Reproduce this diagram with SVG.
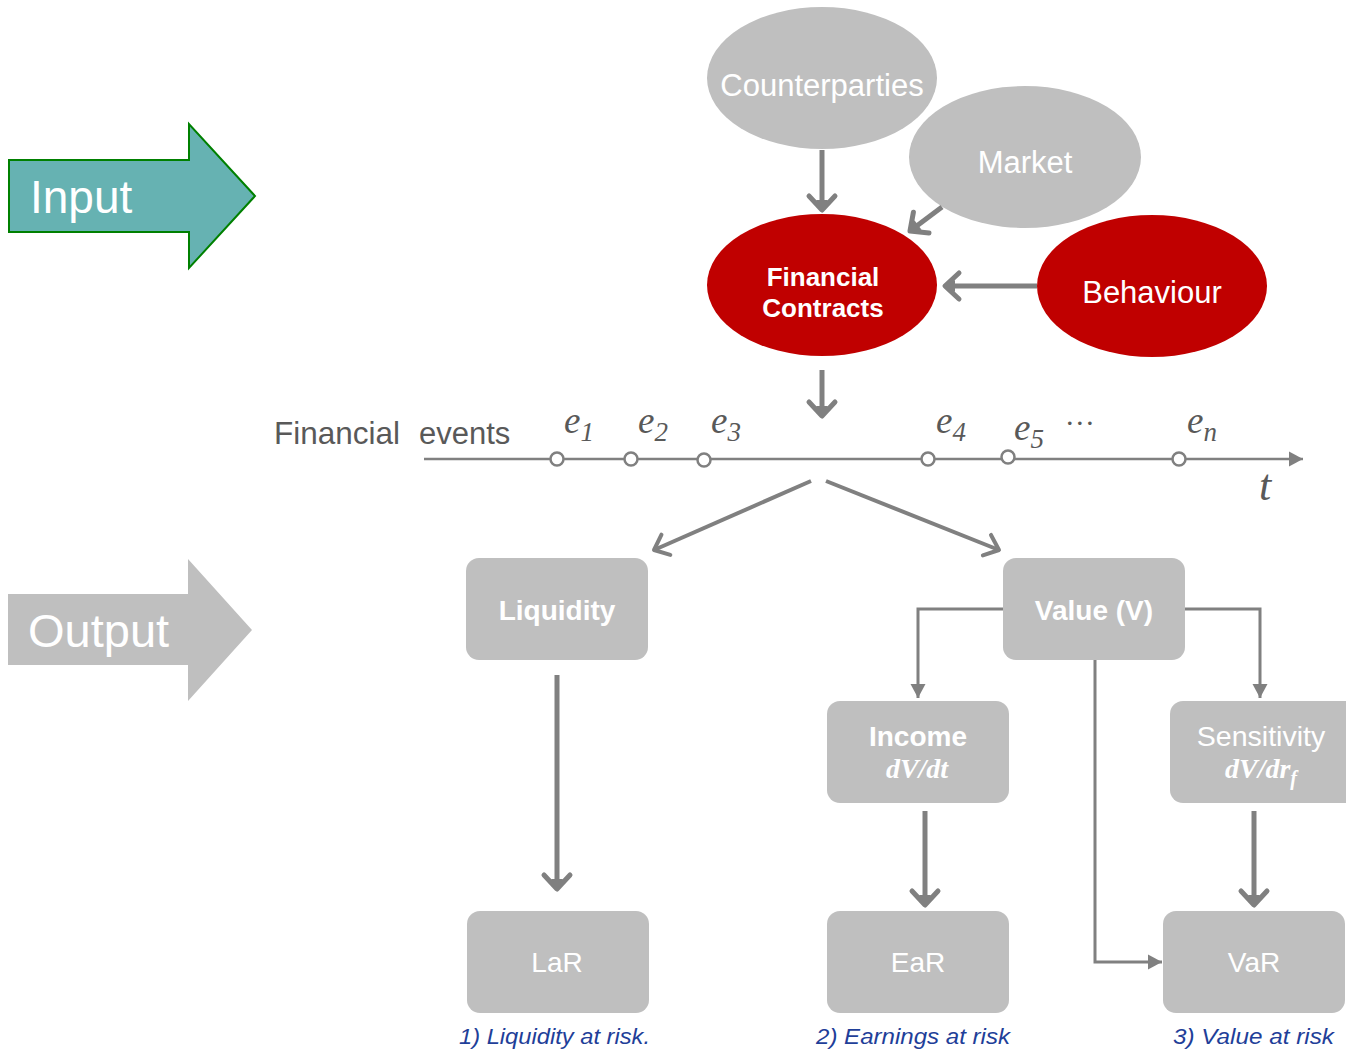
<svg xmlns="http://www.w3.org/2000/svg" width="1346" height="1052" viewBox="0 0 1346 1052">
  <style>
    .ell-grey { fill: #bfbfbf; }
    .ell-red { fill: #c00000; }
    .box { fill: #bfbfbf; }
    .lbl { font-family: "Liberation Sans", Arial, sans-serif; fill: #ffffff; text-anchor: middle; }
    .bold { font-weight: bold; }
    .math { font-family: "Liberation Serif", "Times New Roman", serif; font-style: italic; fill: #595959; }
    .mathw { font-family: "Liberation Serif", "Times New Roman", serif; font-style: italic; font-weight: bold; fill: #ffffff; text-anchor: middle; }
    .cap { font-family: "Liberation Sans", Arial, sans-serif; font-style: italic; fill: #1f3f99; font-size: 22px; }
    .thick { fill: none; stroke: #808080; stroke-width: 5; }
    .mid { fill: none; stroke: #808080; stroke-width: 4; }
    .thin { fill: none; stroke: #808080; stroke-width: 3; }
    .evt { fill: #ffffff; stroke: #808080; stroke-width: 2.5; }
  </style>
  <defs>
    <!-- open chevron head with a solid tip -->
    <marker id="chev" markerUnits="userSpaceOnUse" viewBox="-22 -18 26 36" markerWidth="26" markerHeight="36" refX="0" refY="0" orient="auto" overflow="visible">
      <path d="M-14,-13 L0,0 L-14,13" fill="none" stroke="#808080" stroke-width="5" stroke-linecap="round" stroke-linejoin="round"/>
      <path d="M1,0 L-10,-6 L-10,6 Z" fill="#808080"/>
    </marker>
    <marker id="chev-s" markerUnits="userSpaceOnUse" viewBox="-22 -18 26 36" markerWidth="26" markerHeight="36" refX="0" refY="0" orient="auto" overflow="visible">
      <path d="M-13,-11 L0,0 L-13,11" fill="none" stroke="#808080" stroke-width="4" stroke-linecap="round" stroke-linejoin="round"/>
    </marker>
    <marker id="tri" markerUnits="userSpaceOnUse" viewBox="-15 -8 16 16" markerWidth="16" markerHeight="16" refX="0" refY="0" orient="auto" overflow="visible">
      <path d="M0,0 L-14,-7.5 L-14,7.5 Z" fill="#808080"/>
    </marker>
  </defs>

  <!-- side arrows -->
  <g id="input-arrow">
    <polygon points="9,160 189,160 189,124 255,196 189,268 189,232 9,232" fill="#66b2b2" stroke="#008000" stroke-width="2"/>
    <text x="30" y="213" font-family="Liberation Sans, Arial, sans-serif" font-size="46" fill="#ffffff">Input</text>
  </g>
  <g id="output-arrow">
    <polygon points="8,594 188,594 188,559 252,630 188,701 188,665 8,665" fill="#bfbfbf"/>
    <text x="28" y="647" font-family="Liberation Sans, Arial, sans-serif" font-size="47" fill="#ffffff">Output</text>
  </g>

  <!-- input nodes -->
  <g id="counterparties">
    <ellipse class="ell-grey" cx="822" cy="78" rx="115" ry="71"/>
    <text class="lbl" x="822" y="96" font-size="31">Counterparties</text>
  </g>
  <g id="market">
    <ellipse class="ell-grey" cx="1025" cy="157" rx="116" ry="71"/>
    <text class="lbl" x="1025" y="173" font-size="31">Market</text>
  </g>
  <g id="financial-contracts">
    <ellipse class="ell-red" cx="822" cy="285" rx="115" ry="71"/>
    <text class="lbl bold" x="823" y="286" font-size="26">Financial</text>
    <text class="lbl bold" x="823" y="317" font-size="26">Contracts</text>
  </g>
  <g id="behaviour">
    <ellipse class="ell-red" cx="1152" cy="286" rx="115" ry="71"/>
    <text class="lbl" x="1152" y="303" font-size="31">Behaviour</text>
  </g>

  <!-- timeline of financial events -->
  <g id="timeline">
    <text x="274" y="444" font-family="Liberation Sans, Arial, sans-serif" font-size="31.5" fill="#595959">Financial</text>
    <text x="419" y="444" font-family="Liberation Sans, Arial, sans-serif" font-size="31" fill="#595959">events</text>
    <line x1="424" y1="459" x2="1303" y2="459" stroke="#808080" stroke-width="2.5" marker-end="url(#tri)"/>
    <circle class="evt" cx="557" cy="459" r="6.5"/>
    <circle class="evt" cx="631" cy="459" r="6.5"/>
    <circle class="evt" cx="704" cy="460" r="6.5"/>
    <circle class="evt" cx="928" cy="459" r="6.5"/>
    <circle class="evt" cx="1008" cy="457" r="6.5"/>
    <circle class="evt" cx="1179" cy="459" r="6.5"/>
    <text class="math" x="564" y="433" font-size="37">e<tspan font-size="27" dy="8">1</tspan></text>
    <text class="math" x="638" y="433" font-size="37">e<tspan font-size="27" dy="8">2</tspan></text>
    <text class="math" x="711" y="433" font-size="37">e<tspan font-size="27" dy="8">3</tspan></text>
    <text class="math" x="936" y="433" font-size="37">e<tspan font-size="27" dy="8">4</tspan></text>
    <text class="math" x="1014" y="440" font-size="37">e<tspan font-size="27" dy="8">5</tspan></text>
    <text class="math" x="1067" y="425" font-size="30" font-style="normal">…</text>
    <text class="math" x="1187" y="433" font-size="37">e<tspan font-size="27" dy="8">n</tspan></text>
    <text class="math" x="1259" y="500" font-size="44">t</text>
  </g>

  <!-- output nodes -->
  <g id="liquidity">
    <rect class="box" x="466" y="558" width="182" height="102" rx="13"/>
    <text class="lbl bold" x="557" y="620" font-size="28">Liquidity</text>
  </g>
  <g id="value">
    <rect class="box" x="1003" y="558" width="182" height="102" rx="13"/>
    <text class="lbl bold" x="1094" y="620" font-size="28">Value (V)</text>
  </g>
  <g id="income">
    <rect class="box" x="827" y="701" width="182" height="102" rx="13"/>
    <text class="lbl bold" x="918" y="746" font-size="28">Income</text>
    <text class="mathw" x="917" y="778" font-size="28">dV/dt</text>
  </g>
  <g id="sensitivity">
    <rect class="box" x="1170" y="701" width="190" height="102" rx="13"/>
    <text class="lbl" x="1261" y="746" font-size="28.5">Sensitivity</text>
    <text class="mathw" x="1261" y="778" font-size="28">dV/dr<tspan font-size="20" dy="7">f</tspan></text>
  </g>
  <g id="lar">
    <rect class="box" x="467" y="911" width="182" height="102" rx="13"/>
    <text class="lbl" x="557" y="972" font-size="28">LaR</text>
    <text class="cap" x="459" y="1044" textLength="191" lengthAdjust="spacingAndGlyphs">1) Liquidity at risk.</text>
  </g>
  <g id="ear">
    <rect class="box" x="827" y="911" width="182" height="102" rx="13"/>
    <text class="lbl" x="918" y="972" font-size="28">EaR</text>
    <text class="cap" x="816" y="1044" textLength="194" lengthAdjust="spacingAndGlyphs">2) Earnings at risk</text>
  </g>
  <g id="var">
    <rect class="box" x="1163" y="911" width="182" height="102" rx="13"/>
    <text class="lbl" x="1254" y="972" font-size="28">VaR</text>
    <text class="cap" x="1173" y="1044" textLength="161" lengthAdjust="spacingAndGlyphs">3) Value at risk</text>
  </g>

  <!-- connectors -->
  <g id="connectors">
    <line class="thick" x1="822" y1="150" x2="822" y2="210" marker-end="url(#chev)"/>
    <line class="thick" x1="942" y1="207" x2="910" y2="231" marker-end="url(#chev)"/>
    <line class="thick" x1="1037" y1="286" x2="945" y2="286" marker-end="url(#chev)"/>
    <line class="thick" x1="822" y1="370" x2="822" y2="416" marker-end="url(#chev)"/>
    <line class="mid" x1="811" y1="481" x2="654" y2="550" marker-end="url(#chev-s)"/>
    <line class="mid" x1="826" y1="481" x2="999" y2="550" marker-end="url(#chev-s)"/>
    <line class="thick" x1="557" y1="675" x2="557" y2="889" marker-end="url(#chev)"/>
    <line class="thick" x1="925" y1="811" x2="925" y2="905" marker-end="url(#chev)"/>
    <line class="thick" x1="1254" y1="811" x2="1254" y2="905" marker-end="url(#chev)"/>
    <polyline class="thin" points="1003,609 918,609 918,698" marker-end="url(#tri)"/>
    <polyline class="thin" points="1185,609 1260,609 1260,698" marker-end="url(#tri)"/>
    <polyline class="thin" points="1095,660 1095,962 1162,962" marker-end="url(#tri)"/>
  </g>
</svg>
